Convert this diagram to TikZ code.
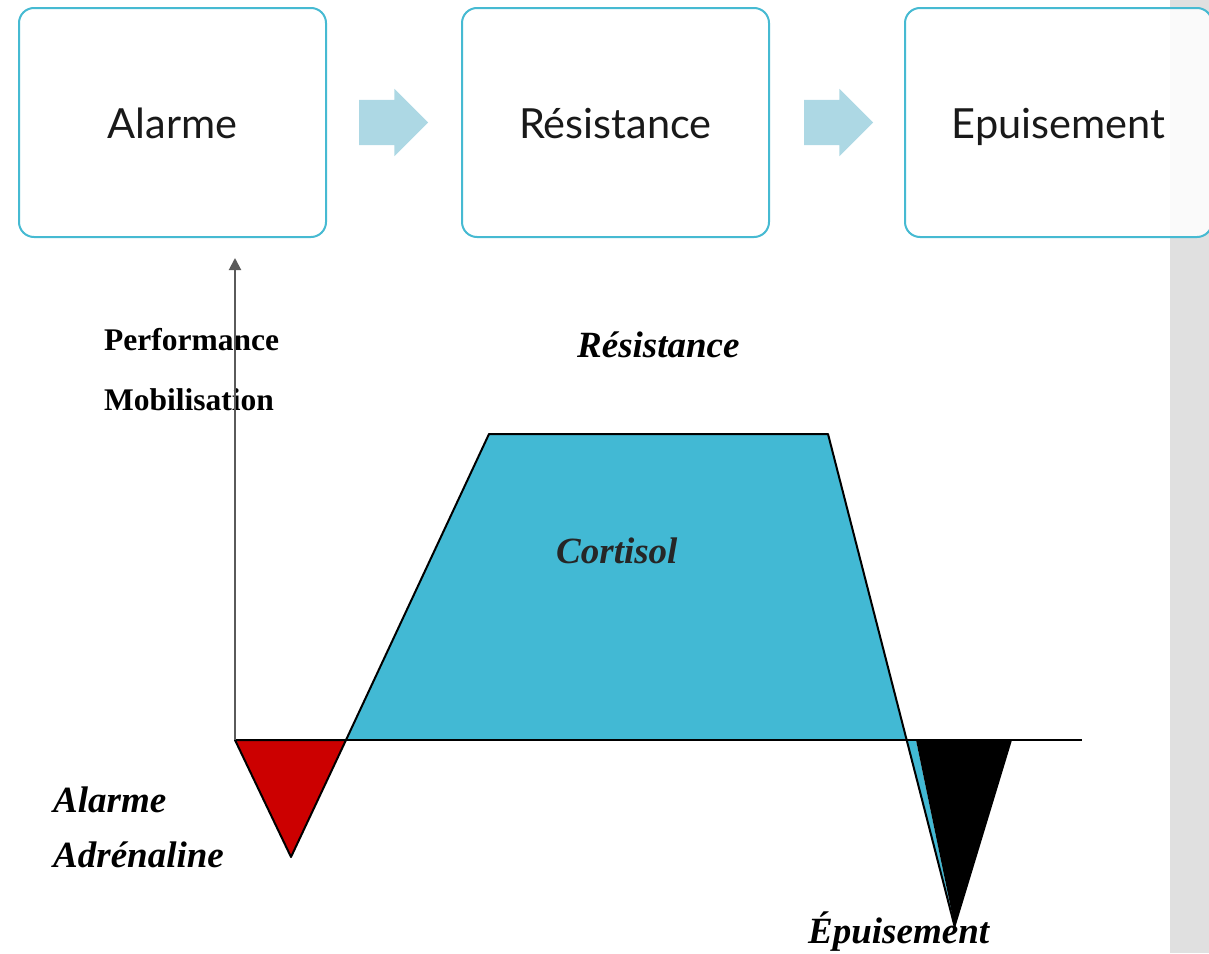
\documentclass[tikz,border=0pt]{standalone}
\usepackage{fontspec}
\setmainfont{Liberation Serif}
\newfontfamily\boxfont{Lato}
\usepackage{tikz}
\usetikzlibrary{arrows.meta}
\usetikzlibrary{shapes.arrows}
\usetikzlibrary{positioning}
\definecolor{mcyan}{RGB}{66, 185, 212}
\definecolor{mframe}{RGB}{70, 186, 210}
\definecolor{marrow}{RGB}{173, 216, 228}
\definecolor{mred}{RGB}{204, 0, 0}
\definecolor{mgray}{RGB}{224, 224, 224}
\definecolor{maxis}{RGB}{90, 90, 90}
\tikzset{phase/.style = {draw = mframe, line width = 2, rounded corners = 15,
                         fill = white, fill opacity = 0.85, text opacity = 1,
                         minimum width = 307, minimum height = 229,
                         text height = 31, text depth = 0, text = black!90,
                         font = \boxfont\fontsize{41.5}{46}\selectfont}}
\tikzset{blockarrow/.style = {single arrow, fill = marrow, inner sep = 0, outer sep = 0,
                              inner ysep = 22.5, minimum height = 69,
                              single arrow head extend = 11, anchor = tail}}
\tikzset{lab/.style = {anchor = base west, inner sep = 0,
                       font = \bfseries\fontsize{31.5}{36}\selectfont}}
\tikzset{ilab/.style = {anchor = base west, inner sep = 0,
                        font = \bfseries\itshape\fontsize{37}{42}\selectfont}}
\tikzset{edge/.style = {line width = 2, line join = round}}

\begin{document}
\begin{tikzpicture}[x = 1pt, y = -1pt]
      \useasboundingbox (0, 0) rectangle (1209, 953);
      \fill [mgray] (1170, 0) rectangle (1209, 953);

      % the three phases
      \node [phase] (alarm) at (172.5, 122.5) {Alarme};
      \node [phase] (resist) at (615.5, 122.5) {Résistance};
      \node [phase] (exhaust) at (1058.5, 122.5) {Epuisement};
      \node [blockarrow] (arrA) at (359, 122.5) {};
      \node [blockarrow] (arrB) at (804, 122.5) {};

      % curve points
      \coordinate (O) at (235, 740);
      \coordinate (top) at (235, 258);
      \coordinate (xend) at (1082, 740);
      \coordinate (redR) at (346, 740);
      \coordinate (redB) at (291, 857);
      \coordinate (riseT) at (489, 434);
      \coordinate (fallT) at (828, 434);
      \coordinate (fallB) at (906, 740);
      \coordinate (blkL) at (916, 740);
      \coordinate (blkR) at (1012, 740);
      \coordinate (blkB) at (955, 928);

      \fill [mcyan] (redR) -- (riseT) -- (fallT) -- (fallB) -- cycle;
      \fill [mcyan] (fallB) -- (blkL) -- (blkB) -- cycle;
      \fill [black] (blkL) -- (blkR) -- (blkB) -- cycle;
      \draw [edge, fill = mred] (O) -- (redR) -- (redB) -- cycle;
      \draw [edge] (redR) -- (riseT) -- (fallT) -- (blkB);

      \node [lab] (perf) at (104, 350) {Performance};
      \node [lab] (mobi) at (104, 410) {Mobilisation};
      \node [ilab] (resT) at (577, 357) {Résistance};
      \node [ilab, text = black!85] (cort) at (556, 563) {Cortisol};
      \node [ilab] (alaT) at (53, 812) {Alarme};
      \node [ilab] (adre) at (53, 867) {Adrénaline};
      \node [ilab] (epuT) at (808, 943) {Épuisement};

      \draw [line width = 1.5] (O) -- (xend);
      \draw [maxis, line width = 2, -{Triangle[width = 12, length = 12]}] (O) -- (top);
    \end{tikzpicture}
\end{document}
